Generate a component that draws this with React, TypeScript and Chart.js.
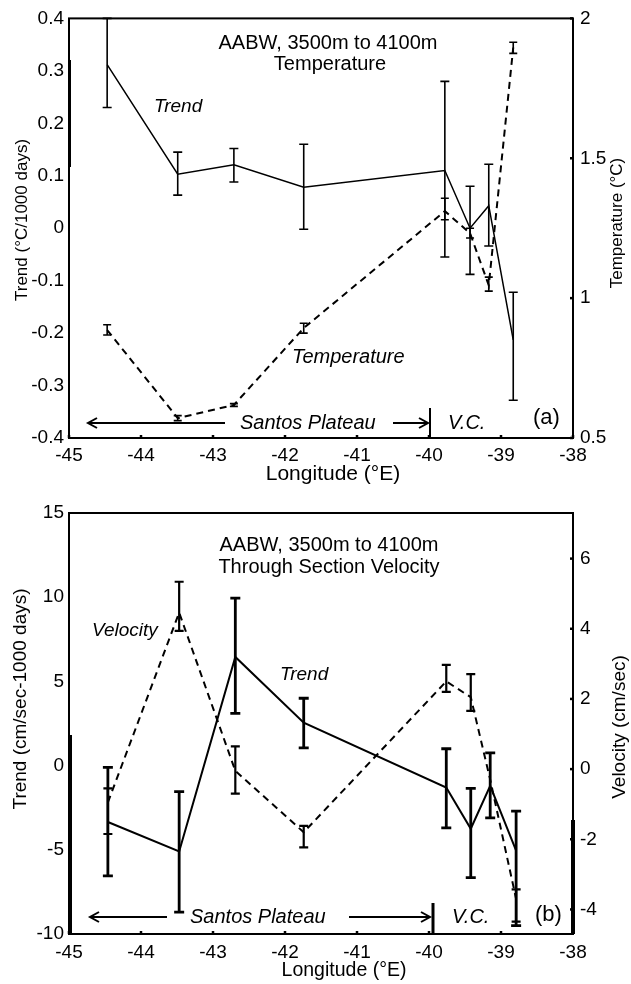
import React, { useEffect, useRef } from "react";
import { Chart, registerables } from "chart.js";
Chart.register(...registerables);

const FONT = '"Liberation Sans", Arial, Helvetica, sans-serif';

// ---------- Panel (a): Temperature ----------
const lonA = [-44.47, -43.49, -42.71, -41.74, -39.78, -39.43, -39.17, -38.83];
const trendA = [0.312, 0.103, 0.121, 0.078, 0.11, 0.0, 0.043, -0.213];
const trendHiA = [0.4, 0.145, 0.152, 0.16, 0.28, 0.08, 0.122, -0.122];
const trendLoA = [0.23, 0.063, 0.088, -0.002, -0.055, -0.088, -0.034, -0.328];
const tempA = [0.886, 0.571, 0.618, 0.893, 1.311, 1.232, 1.046, 1.896];
const tempHiA = [0.905, 0.58, 0.623, 0.91, 1.357, 1.25, 1.075, 1.915];
const tempLoA = [0.868, 0.562, 0.613, 0.875, 1.28, 1.215, 1.025, 1.875];
const lonTicks = [-45, -44, -43, -42, -41, -40, -39, -38];
const trendTicksA = [-0.4, -0.3, -0.2, -0.1, 0, 0.1, 0.2, 0.3, 0.4];
const tempTicksA = [0.5, 1, 1.5, 2];

// ---------- Panel (b): Through Section Velocity ----------
const lonB = [-44.46, -43.47, -42.69, -41.74, -39.76, -39.42, -39.15, -38.79];
const trendB = [-3.35, -5.1, 6.45, 2.55, -1.3, -3.75, -1.2, -5.05];
const trendHiB = [-0.1, -1.55, 9.95, 4.0, 1.0, -1.35, 0.75, -2.7];
const trendLoB = [-6.55, -8.7, 3.1, 1.05, -3.7, -6.65, -3.1, -9.5];
const velB = [-0.95, 4.46, -0.05, -1.8, 2.5, 2.05, -0.3, -3.7];
const velHiB = [-0.55, 5.34, 0.65, -1.62, 2.97, 2.71, null, -3.43];
const velLoB = [-1.85, 3.94, -0.7, -2.23, 2.2, 1.66, null, -4.35];
const trendTicksB = [-10, -5, 0, 5, 10, 15];
const velTicksB = [-4, -2, 0, 2, 4, 6];

type Txt = { t: string; x: number; y: number; size: number; italic?: boolean; align?: CanvasTextAlign; rot?: boolean };
type Arrow = { x1: number; x2: number; y: number; w: number };
type ErrSpec = { xs: number[]; hi: (number | null)[]; lo: (number | null)[]; axis: string; w: number; cap: number };
type Seg = { x: number; y1: number; y2: number; w: number };

type PanelCfg = {
  height: number;
  top: number;
  padTop: number;
  xHeight: number;
  leftW: number;
  rightW: number;
  xPad: number;
  yMin: number; yMax: number; yTicks: number[];
  y1Min: number; y1Max: number; y1Ticks: number[];
  solid: { xs: number[]; ys: number[]; w: number };
  dashed: { xs: number[]; ys: number[]; w: number };
  errs: ErrSpec[];
  texts: Txt[];
  arrows: Arrow[];
  vbar: Seg;
  heavy: Seg[];
  tickFont: number;
  xTickFont: number;
};

function decorPlugin(cfg: PanelCfg) {
  return {
    id: "decor",
    afterDatasetsDraw(chart: any) {
      const ctx: CanvasRenderingContext2D = chart.ctx;
      const ca = chart.chartArea;
      const sx = chart.scales.x;
      ctx.save();
      ctx.strokeStyle = "#000";
      ctx.fillStyle = "#000";
      ctx.setLineDash([]);
      // error bars
      for (const e of cfg.errs) {
        const sy = chart.scales[e.axis];
        ctx.lineWidth = e.w;
        e.xs.forEach((lon, i) => {
          const hi = e.hi[i];
          const lo = e.lo[i];
          if (hi == null || lo == null) return;
          const px = sx.getPixelForValue(lon);
          const yh = sy.getPixelForValue(hi);
          const yl = sy.getPixelForValue(lo);
          ctx.beginPath();
          ctx.moveTo(px, yh);
          ctx.lineTo(px, yl);
          ctx.moveTo(px - e.cap, yh);
          ctx.lineTo(px + e.cap, yh);
          ctx.moveTo(px - e.cap, yl);
          ctx.lineTo(px + e.cap, yl);
          ctx.stroke();
        });
      }
      // frame
      ctx.lineWidth = 2;
      ctx.strokeRect(ca.left, ca.top, ca.right - ca.left, ca.bottom - ca.top);
      // heavier axis segments (as in the scanned original)
      for (const s of cfg.heavy) {
        ctx.lineWidth = s.w;
        ctx.beginPath();
        ctx.moveTo(s.x, s.y1 - cfg.top);
        ctx.lineTo(s.x, s.y2 - cfg.top);
        ctx.stroke();
      }
      // inward tick marks
      ctx.lineWidth = 2.5;
      for (const v of lonTicks) {
        const px = sx.getPixelForValue(v);
        ctx.beginPath();
        ctx.moveTo(px, ca.bottom);
        ctx.lineTo(px, ca.bottom - 3);
        ctx.stroke();
      }
      const sy1 = chart.scales.y1;
      for (const v of cfg.y1Ticks) {
        const py = sy1.getPixelForValue(v);
        ctx.beginPath();
        ctx.moveTo(ca.right, py);
        ctx.lineTo(ca.right - 3, py);
        ctx.stroke();
      }
      // arrows
      for (const a of cfg.arrows) {
        const yy = a.y - cfg.top;
        ctx.lineWidth = a.w;
        ctx.beginPath();
        ctx.moveTo(a.x1, yy);
        ctx.lineTo(a.x2, yy);
        const dir = a.x2 > a.x1 ? -1 : 1;
        ctx.moveTo(a.x2 + dir * 9, yy - 5);
        ctx.lineTo(a.x2, yy);
        ctx.lineTo(a.x2 + dir * 9, yy + 5);
        ctx.stroke();
      }
      // vertical separator
      ctx.lineWidth = cfg.vbar.w;
      ctx.beginPath();
      ctx.moveTo(cfg.vbar.x, cfg.vbar.y1 - cfg.top);
      ctx.lineTo(cfg.vbar.x, cfg.vbar.y2 - cfg.top);
      ctx.stroke();
      // texts
      for (const t of cfg.texts) {
        ctx.save();
        ctx.font = `${t.italic ? "italic " : ""}${t.size}px ${FONT}`;
        ctx.textBaseline = "middle";
        ctx.textAlign = t.align || "left";
        ctx.translate(t.x, t.y - cfg.top);
        if (t.rot) ctx.rotate(-Math.PI / 2);
        ctx.fillText(t.t, 0, 0);
        ctx.restore();
      }
      ctx.restore();
    },
  };
}

function Panel({ cfg }: { cfg: PanelCfg }) {
  const ref = useRef<HTMLCanvasElement>(null);
  useEffect(() => {
    if (!ref.current) return;
    const pts = (xs: number[], ys: number[]) => xs.map((x, i) => ({ x, y: ys[i] }));
    const noGrid = { display: false, drawTicks: false, drawOnChartArea: false };
    const chart = new Chart(ref.current, {
      type: "line",
      data: {
        datasets: [
          {
            data: pts(cfg.solid.xs, cfg.solid.ys),
            yAxisID: "y",
            borderColor: "#000",
            borderWidth: cfg.solid.w,
            pointRadius: 0,
            tension: 0,
            fill: false,
          },
          {
            data: pts(cfg.dashed.xs, cfg.dashed.ys),
            yAxisID: "y1",
            borderColor: "#000",
            borderWidth: cfg.dashed.w,
            borderDash: [7, 5],
            pointRadius: 0,
            tension: 0,
            fill: false,
          },
        ],
      },
      options: {
        animation: false,
        responsive: false,
        maintainAspectRatio: false,
        devicePixelRatio: 1,
        layout: { padding: { top: cfg.padTop, left: 0, right: 0, bottom: 0 } },
        plugins: { legend: { display: false }, tooltip: { enabled: false }, title: { display: false } },
        scales: {
          x: {
            type: "linear",
            min: -45,
            max: -38,
            grid: noGrid,
            border: { display: false },
            afterBuildTicks: (s: any) => { s.ticks = lonTicks.map((v) => ({ value: v })); },
            afterFit: (s: any) => { s.height = cfg.xHeight; },
            ticks: {
              autoSkip: false,
              maxRotation: 0,
              padding: cfg.xPad,
              color: "#000",
              font: { family: FONT, size: cfg.xTickFont },
              callback: (v: any) => String(v),
            },
          },
          y: {
            type: "linear",
            position: "left",
            min: cfg.yMin,
            max: cfg.yMax,
            grid: noGrid,
            border: { display: false },
            afterBuildTicks: (s: any) => { s.ticks = cfg.yTicks.map((v) => ({ value: v })); },
            afterFit: (s: any) => { s.width = cfg.leftW; },
            ticks: {
              autoSkip: false,
              padding: 5,
              color: "#000",
              font: { family: FONT, size: cfg.tickFont },
              callback: (v: any) => String(v),
            },
          },
          y1: {
            type: "linear",
            position: "right",
            min: cfg.y1Min,
            max: cfg.y1Max,
            grid: noGrid,
            border: { display: false },
            afterBuildTicks: (s: any) => { s.ticks = cfg.y1Ticks.map((v) => ({ value: v })); },
            afterFit: (s: any) => { s.width = cfg.rightW; },
            ticks: {
              autoSkip: false,
              padding: 7,
              color: "#000",
              font: { family: FONT, size: cfg.tickFont },
              callback: (v: any) => String(v),
            },
          },
        },
      } as any,
      plugins: [decorPlugin(cfg)],
    });
    return () => chart.destroy();
  }, [cfg]);
  return (
    <canvas
      ref={ref}
      width={631}
      height={cfg.height}
      style={{ position: "absolute", left: 0, top: cfg.top, width: 631, height: cfg.height, display: "block" }}
    />
  );
}

const cfgA: PanelCfg = {
  height: 490,
  top: 0,
  padTop: 18,
  xHeight: 52,
  leftW: 69,
  rightW: 58,
  xPad: 6,
  yMin: -0.4, yMax: 0.4, yTicks: trendTicksA,
  y1Min: 0.5, y1Max: 2, y1Ticks: tempTicksA,
  solid: { xs: lonA, ys: trendA, w: 1.5 },
  dashed: { xs: lonA, ys: tempA, w: 2 },
  errs: [
    { xs: lonA, hi: trendHiA, lo: trendLoA, axis: "y", w: 1.6, cap: 4.5 },
    { xs: lonA, hi: tempHiA, lo: tempLoA, axis: "y1", w: 1.6, cap: 4 },
  ],
  texts: [
    { t: "AABW, 3500m to 4100m", x: 328, y: 43, size: 20, align: "center" },
    { t: "Temperature", x: 330, y: 64, size: 20, align: "center" },
    { t: "Trend", x: 154, y: 107, size: 19, italic: true },
    { t: "Temperature", x: 292, y: 357, size: 20, italic: true },
    { t: "Santos Plateau", x: 240, y: 423, size: 20, italic: true },
    { t: "V.C.", x: 448, y: 423, size: 20, italic: true },
    { t: "(a)", x: 533, y: 418, size: 22 },
    { t: "Longitude (°E)", x: 333, y: 474, size: 21, align: "center" },
    { t: "Trend (°C/1000 days)", x: 22, y: 220, size: 17, align: "center", rot: true },
    { t: "Temperature (°C)", x: 617, y: 223, size: 17, align: "center", rot: true },
  ],
  arrows: [
    { x1: 225, x2: 88, y: 423, w: 2 },
    { x1: 393, x2: 428, y: 423, w: 2 },
  ],
  vbar: { x: 430, y1: 408, y2: 438, w: 2 },
  heavy: [{ x: 69.5, y1: 60, y2: 167, w: 3 }],
  tickFont: 19,
  xTickFont: 19,
};

const cfgB: PanelCfg = {
  height: 494,
  top: 490,
  padTop: 23,
  xHeight: 50,
  leftW: 69,
  rightW: 58,
  xPad: 7,
  yMin: -10, yMax: 15, yTicks: trendTicksB,
  y1Min: -4.7, y1Max: 7.3, y1Ticks: velTicksB,
  solid: { xs: lonB, ys: trendB, w: 2 },
  dashed: { xs: lonB, ys: velB, w: 2 },
  errs: [
    { xs: lonB, hi: trendHiB, lo: trendLoB, axis: "y", w: 2.8, cap: 5 },
    { xs: lonB, hi: velHiB, lo: velLoB, axis: "y1", w: 2.2, cap: 4.5 },
  ],
  texts: [
    { t: "AABW, 3500m to 4100m", x: 329, y: 545, size: 20, align: "center" },
    { t: "Through Section Velocity", x: 329, y: 567, size: 20, align: "center" },
    { t: "Velocity", x: 92, y: 631, size: 19, italic: true },
    { t: "Trend", x: 280, y: 675, size: 19, italic: true },
    { t: "Santos Plateau", x: 190, y: 917, size: 20, italic: true },
    { t: "V.C.", x: 452, y: 917, size: 20, italic: true },
    { t: "(b)", x: 535, y: 915, size: 22 },
    { t: "Longitude (°E)", x: 344, y: 971, size: 19.5, align: "center" },
    { t: "Trend (cm/sec-1000 days)", x: 21, y: 699, size: 19, align: "center", rot: true },
    { t: "Velocity (cm/sec)", x: 620, y: 727, size: 19, align: "center", rot: true },
  ],
  arrows: [
    { x1: 167, x2: 90, y: 917, w: 2 },
    { x1: 349, x2: 430, y: 917, w: 2 },
  ],
  vbar: { x: 433, y1: 903, y2: 934, w: 3 },
  heavy: [
    { x: 70, y1: 735, y2: 934, w: 4 },
    { x: 573, y1: 820, y2: 934, w: 4 },
  ],
  tickFont: 19,
  xTickFont: 19,
};

export default function App() {
  return (
    <div style={{ position: "absolute", left: 0, top: 0, width: 631, height: 984, background: "#fff" }}>
      <Panel cfg={cfgA} />
      <Panel cfg={cfgB} />
    </div>
  );
}
